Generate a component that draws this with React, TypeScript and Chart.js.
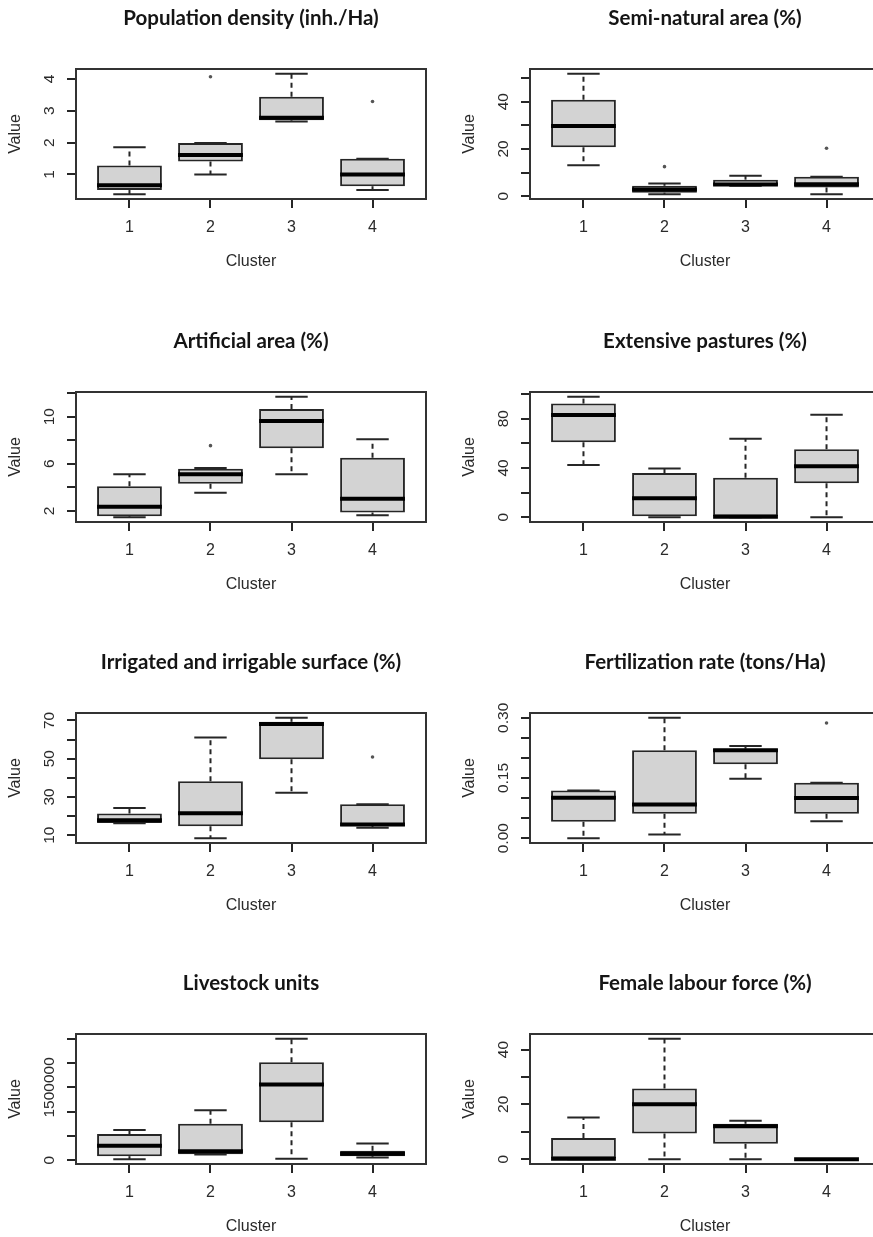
import React, { useEffect, useRef } from "react";
import { Chart, registerables } from "chart.js";

Chart.register(...registerables);

// ---------- data ----------
// each row: [lower whisker, Q1, median, Q3, upper whisker] for clusters 1..4
const clusters = [1, 2, 3, 4];

const popDensityStats = [
  [0.38, 0.51, 0.66, 1.28, 1.85],
  [1.0, 1.41, 1.61, 1.99, 1.99],
  [2.66, 2.7, 2.78, 3.44, 4.16],
  [0.51, 0.63, 1.0, 1.49, 1.49],
];
const popDensityOutliers = [[2, 4.07], [4, 3.29]];
const popDensityTicks = [1, 2, 3, 4];
const popDensityLabels = ["1", "2", "3", "4"];

const semiNaturalStats = [
  [13.1, 20.7, 29.7, 40.8, 51.8],
  [0.85, 1.5, 2.8, 4.4, 5.4],
  [4.4, 4.5, 5.0, 7.0, 8.7],
  [0.85, 3.7, 5.1, 8.2, 8.2],
];
const semiNaturalOutliers = [[2, 12.5], [4, 20.3]];
const semiNaturalTicks = [0, 10, 20, 30, 40, 50];
const semiNaturalLabels = ["0", "", "20", "", "40", ""];

const artificialStats = [
  [1.46, 1.54, 2.34, 4.09, 5.11],
  [3.54, 4.31, 5.11, 5.57, 5.63],
  [5.11, 7.31, 9.63, 10.66, 11.69],
  [1.63, 1.86, 3.03, 6.51, 8.09],
];
const artificialOutliers = [[2, 7.54]];
const artificialTicks = [2, 4, 6, 8, 10, 12];
const artificialLabels = ["2", "", "6", "", "10", ""];

const pasturesStats = [
  [42.3, 60.9, 83.1, 92.3, 97.8],
  [0, 0, 15.3, 35.8, 39.6],
  [0, 0, 0.3, 32.0, 63.7],
  [0, 27.6, 41.3, 55.2, 83.3],
];
const pasturesOutliers: number[][] = [];
const pasturesTicks = [0, 20, 40, 60, 80, 100];
const pasturesLabels = ["0", "", "40", "", "80", ""];

const irrigatedStats = [
  [16.2, 16.4, 17.8, 21.3, 24.2],
  [8.4, 14.7, 21.4, 38.2, 61.1],
  [32.2, 49.7, 68.2, 69.3, 71.4],
  [13.8, 14.7, 15.5, 26.1, 26.1],
];
const irrigatedOutliers = [[4, 50.9]];
const irrigatedTicks = [10, 20, 30, 40, 50, 60, 70];
const irrigatedLabels = ["10", "", "30", "", "50", "", "70"];

const fertilizationStats = [
  [0.0, 0.041, 0.101, 0.119, 0.119],
  [0.009, 0.061, 0.084, 0.219, 0.3],
  [0.148, 0.184, 0.219, 0.223, 0.23],
  [0.042, 0.061, 0.1, 0.138, 0.138],
];
const fertilizationOutliers = [[4, 0.287]];
const fertilizationTicks = [0, 0.05, 0.1, 0.15, 0.2, 0.25, 0.3];
const fertilizationLabels = ["0.00", "", "", "0.15", "", "", "0.30"];

const livestockStats = [
  [20700, 82900, 297000, 538700, 621500],
  [117000, 124000, 182000, 752800, 1029000],
  [27600, 780400, 1560800, 2016500, 2500000],
  [55000, 82900, 135000, 193400, 345300],
];
const livestockOutliers: number[][] = [];
const livestockTicks = [0, 500000, 1000000, 1500000, 2000000, 2500000];
const livestockLabels = ["0", "", "", "1500000", "", ""];

const femaleStats = [
  [0, 0, 0.2, 7.7, 15.2],
  [0, 9.4, 20.0, 25.8, 43.9],
  [0, 5.6, 12.0, 12.9, 14.0],
  [0, 0, 0, 0, 0],
];
const femaleOutliers: number[][] = [];
const femaleTicks = [0, 10, 20, 30, 40];
const femaleLabels = ["0", "", "20", "", "40"];

const titles = [
  "Population density (inh./Ha)",
  "Semi-natural area (%)",
  "Artificial area (%)",
  "Extensive pastures (%)",
  "Irrigated and irrigable surface (%)",
  "Fertilization rate (tons/Ha)",
  "Livestock units",
  "Female labour force (%)",
];

const panels = [
  { title: titles[0], stats: popDensityStats, outliers: popDensityOutliers, ticks: popDensityTicks, labels: popDensityLabels },
  { title: titles[1], stats: semiNaturalStats, outliers: semiNaturalOutliers, ticks: semiNaturalTicks, labels: semiNaturalLabels },
  { title: titles[2], stats: artificialStats, outliers: artificialOutliers, ticks: artificialTicks, labels: artificialLabels },
  { title: titles[3], stats: pasturesStats, outliers: pasturesOutliers, ticks: pasturesTicks, labels: pasturesLabels },
  { title: titles[4], stats: irrigatedStats, outliers: irrigatedOutliers, ticks: irrigatedTicks, labels: irrigatedLabels },
  { title: titles[5], stats: fertilizationStats, outliers: fertilizationOutliers, ticks: fertilizationTicks, labels: fertilizationLabels },
  { title: titles[6], stats: livestockStats, outliers: livestockOutliers, ticks: livestockTicks, labels: livestockLabels },
  { title: titles[7], stats: femaleStats, outliers: femaleOutliers, ticks: femaleTicks, labels: femaleLabels },
];

// ---------- layout / style ----------
const CANVAS_W = 430;
const CANVAS_H = 279;
const COL_LEFT = [0, 454];
const ROW_TOP = [0, 323, 644, 965];
const AXIS_FONT = "'Liberation Sans', Arial, sans-serif";
const TITLE_FONT = "Lato, 'Open Sans', sans-serif";
const TEXT_COLOR = "#2a2a2a";
const LINE_COLOR = "#262626";

function BoxPanel({ panel, left, top }: any) {
  const ref = useRef<HTMLCanvasElement>(null);

  useEffect(() => {
    if (!ref.current) return;
    const { stats, outliers, ticks, labels, title } = panel;

    // R-style y range: data range extended by 4%
    const all: number[] = [];
    stats.forEach((s: number[]) => all.push(s[0], s[4]));
    outliers.forEach((o: number[]) => all.push(o[1]));
    const lo = Math.min(...all);
    const hi = Math.max(...all);
    const pad = (hi - lo) * 0.04;

    const boxPlugin = {
      id: "boxExtras",
      afterDatasetsDraw(chart: any) {
        const { ctx, chartArea } = chart;
        const xs = chart.scales.x;
        const ys = chart.scales.y;
        ctx.save();
        const line = (x1: number, y1: number, x2: number, y2: number) => {
          ctx.beginPath();
          ctx.moveTo(x1, y1);
          ctx.lineTo(x2, y2);
          ctx.stroke();
        };
        stats.forEach((s: number[], i: number) => {
          const c = clusters[i];
          const xc = xs.getPixelForValue(c);
          const [pLo, pQ1, pMed, pQ3, pHi] = s.map((v) => ys.getPixelForValue(v));
          ctx.strokeStyle = LINE_COLOR;
          ctx.lineWidth = 2;
          ctx.setLineDash([5, 4]);
          if (pHi < pQ3) line(xc, pQ3, xc, pHi);
          if (pLo > pQ1) line(xc, pQ1, xc, pLo);
          ctx.setLineDash([]);
          const sl = xs.getPixelForValue(c - 0.2);
          const sr = xs.getPixelForValue(c + 0.2);
          line(sl, pHi, sr, pHi);
          line(sl, pLo, sr, pLo);
          ctx.strokeStyle = "#000";
          ctx.lineWidth = 4;
          line(xs.getPixelForValue(c - 0.4), pMed, xs.getPixelForValue(c + 0.4), pMed);
        });
        // frame
        ctx.strokeStyle = "#333";
        ctx.lineWidth = 2;
        ctx.strokeRect(chartArea.left, chartArea.top, chartArea.right - chartArea.left, chartArea.bottom - chartArea.top);
        // y tick labels (rotated, R style)
        ctx.fillStyle = TEXT_COLOR;
        ctx.font = `15.5px ${AXIS_FONT}`;
        ctx.textAlign = "center";
        ctx.textBaseline = "middle";
        ticks.forEach((v: number, i: number) => {
          const lab = labels[i];
          if (!lab) return;
          const py = ys.getPixelForValue(v);
          ctx.save();
          ctx.translate(chartArea.left - 26, py);
          ctx.rotate(-Math.PI / 2);
          ctx.fillText(lab, 0, 0);
          ctx.restore();
        });
        ctx.restore();
      },
    };

    const chart = new Chart(ref.current, {
      type: "bar",
      data: {
        datasets: [
          {
            type: "bar",
            data: stats.map((s: number[], i: number) => ({ x: clusters[i], y: [s[1], s[3]] })),
            backgroundColor: "#D3D3D3",
            borderColor: LINE_COLOR,
            borderWidth: 2,
            borderSkipped: false,
            categoryPercentage: 1,
            barPercentage: 0.8,
          } as any,
          {
            type: "scatter",
            data: outliers.map((o: number[]) => ({ x: o[0], y: o[1] })),
            pointRadius: 1.8,
            pointBackgroundColor: "#555",
            pointBorderColor: "#555",
            pointBorderWidth: 0,
          } as any,
        ],
      },
      options: {
        animation: false,
        responsive: false,
        devicePixelRatio: 1,
        events: [],
        layout: { padding: { left: 0, right: 4, top: 0, bottom: 0 } },
        plugins: {
          legend: { display: false },
          tooltip: { enabled: false },
          title: {
            display: true,
            text: title,
            fullSize: false,
            color: "#151515",
            font: { family: TITLE_FONT, size: 20.5, weight: "bold", lineHeight: 1.2 },
            padding: { top: 6.2, bottom: 38.2 },
          },
        },
        scales: {
          x: {
            type: "linear",
            min: 0.34,
            max: 4.66,
            offset: false,
            afterBuildTicks: (s: any) => {
              s.ticks = clusters.map((v) => ({ value: v }));
            },
            afterFit: (s: any) => {
              s.height = 80;
            },
            ticks: {
              color: TEXT_COLOR,
              font: { family: AXIS_FONT, size: 16 },
              padding: 10,
              maxRotation: 0,
              minRotation: 0,
              callback: (v: any) => String(v),
            },
            grid: {
              offset: false,
              drawOnChartArea: false,
              drawTicks: true,
              tickLength: 9,
              color: LINE_COLOR,
              lineWidth: 2,
            },
            border: { display: false },
            title: {
              display: true,
              text: "Cluster",
              color: TEXT_COLOR,
              font: { family: AXIS_FONT, size: 16, lineHeight: 1.2 },
              padding: { top: 0, bottom: 7.4 },
            },
          },
          y: {
            type: "linear",
            min: lo - pad,
            max: hi + pad,
            beginAtZero: false,
            afterBuildTicks: (s: any) => {
              s.ticks = ticks.map((v: number) => ({ value: v }));
            },
            afterFit: (s: any) => {
              s.width = 76;
            },
            ticks: { display: false },
            grid: {
              drawOnChartArea: false,
              drawTicks: true,
              tickLength: 9,
              color: LINE_COLOR,
              lineWidth: 2,
            },
            border: { display: false },
            title: {
              display: true,
              text: "Value",
              color: TEXT_COLOR,
              font: { family: AXIS_FONT, size: 16, lineHeight: 1.2 },
              padding: { top: 6, bottom: 0 },
            },
          },
        },
      } as any,
      plugins: [boxPlugin],
    });
    return () => chart.destroy();
  }, [panel]);

  return (
    <canvas
      ref={ref}
      width={CANVAS_W}
      height={CANVAS_H}
      style={{ position: "absolute", left, top, width: CANVAS_W, height: CANVAS_H }}
    />
  );
}

export default function App() {
  return (
    <div
      style={{
        position: "absolute",
        left: 0,
        top: 0,
        width: 873,
        height: 1237,
        overflow: "hidden",
        background: "#ffffff",
      }}
    >
      {panels.map((p, i) => (
        <BoxPanel key={i} panel={p} left={COL_LEFT[i % 2]} top={ROW_TOP[Math.floor(i / 2)]} />
      ))}
    </div>
  );
}
